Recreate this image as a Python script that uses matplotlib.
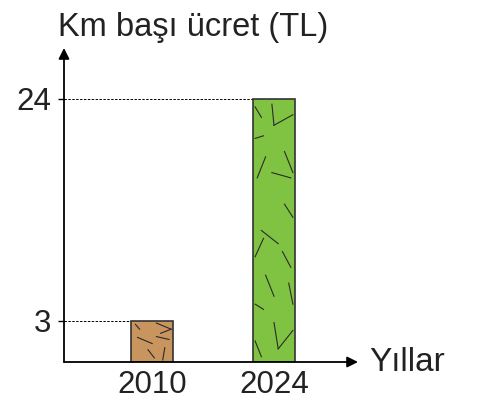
import numpy as np
import matplotlib
matplotlib.use("Agg")
import matplotlib.pyplot as plt

plt.rcParams['font.family'] = ['Liberation Sans', 'DejaVu Sans']

years = ['2010', '2024']
fares = [3, 24]
bar_pos = [2.1, 5.0]
colors = ['#c9955e', '#80c342']

# the picture is not drawn to scale: 0-3 is stretched, 3-24 compressed
yk = [-10, 0, 3, 24, 100]
yp = [-105.7, 0, 41, 263, 263 + 76 * 10.571]
fwd = lambda y: np.interp(y, yk, yp)
inv = lambda p: np.interp(p, yp, yk)

# texture strokes, in bar-relative coords (x0, y0, x1, y1)
tex = [
    (0.1, 0.92, 0.2, 0.8), (0.6, 0.95, 0.95, 0.8), (0.95, 0.8, 0.7, 0.7),
    (0.15, 0.6, 0.5, 0.45), (0.4, 0.3, 0.55, 0.1), (0.8, 0.35, 0.75, 0.05),
    (0.9, 0.55, 0.6, 0.62),
]
tex_tall = [
    (0.05, 0.97, 0.2, 0.93), (0.45, 0.98, 0.5, 0.9), (0.5, 0.9, 0.95, 0.94),
    (0.05, 0.85, 0.25, 0.86), (0.75, 0.8, 0.95, 0.72), (0.45, 0.72, 0.9, 0.7),
    (0.1, 0.7, 0.3, 0.78), (0.75, 0.6, 0.95, 0.55),
    (0.2, 0.5, 0.6, 0.45), (0.05, 0.4, 0.25, 0.47), (0.7, 0.42, 0.9, 0.36),
    (0.3, 0.33, 0.5, 0.25), (0.85, 0.3, 0.95, 0.22), (0.05, 0.22, 0.25, 0.2),
    (0.5, 0.15, 0.6, 0.05), (0.6, 0.05, 0.95, 0.12), (0.05, 0.08, 0.2, 0.02),
]

fig = plt.figure(figsize=(4.79, 4.09), dpi=100)
ax = fig.add_axes([64/479, 47/409, 294/479, 314/409])
ax.set_yscale('function', functions=(fwd, inv))
ax.set_xlim(0, 7)
ax.set_ylim(0, 28.82)

bars = ax.bar(bar_pos, fares, width=1.0, color=colors, edgecolor='#333333',
              linewidth=1.2, zorder=3)

for b, t in zip(bars, [tex, tex_tall]):
    x0, w = b.get_x(), b.get_width()
    p0, p1 = fwd(0), fwd(b.get_height())
    for (a, c, d, e) in t:
        ax.plot([x0 + a*w, x0 + d*w], [inv(p0 + c*(p1-p0)), inv(p0 + e*(p1-p0))],
                color='#2a2a2a', lw=0.8, zorder=4)

# dashed guides
for x, v, b in zip(bar_pos, fares, bars):
    ax.plot([0, b.get_x()], [v, v], ls=(0, (2.5, 1.5)), color='black', lw=0.7, zorder=2)

for s in ax.spines.values():
    s.set_visible(False)

ax.annotate('', xy=(0, 1.0), xytext=(0, 0), xycoords='axes fraction',
            arrowprops=dict(arrowstyle='-|>', mutation_scale=16, lw=1.3, color='black',
                            shrinkA=0, shrinkB=0))
ax.annotate('', xy=(1.0, 0), xytext=(0, 0), xycoords='axes fraction',
            arrowprops=dict(arrowstyle='-|>', mutation_scale=16, lw=1.3, color='black',
                            shrinkA=0, shrinkB=0))

ax.set_yticks(fares)
ax.set_yticklabels([str(v) for v in fares], fontsize=22.5, color='#222222')
ax.tick_params(axis='y', length=4, width=1.0, pad=5, direction='out')
ax.set_xticks(bar_pos)
ax.set_xticklabels(years, fontsize=22.5, color='#222222')
ax.tick_params(axis='x', length=0, pad=6)
ax.yaxis.set_minor_locator(matplotlib.ticker.NullLocator())

fig.text(58/479, 1 - 12/409, 'Km başı ücret (TL)', fontsize=23.5, color='#222222',
         ha='left', va='top')
fig.text(369/479, 1 - 371/409, 'Yıllar', fontsize=24, color='#222222',
         ha='left', va='baseline')

fig.savefig('out.png', dpi=100)
